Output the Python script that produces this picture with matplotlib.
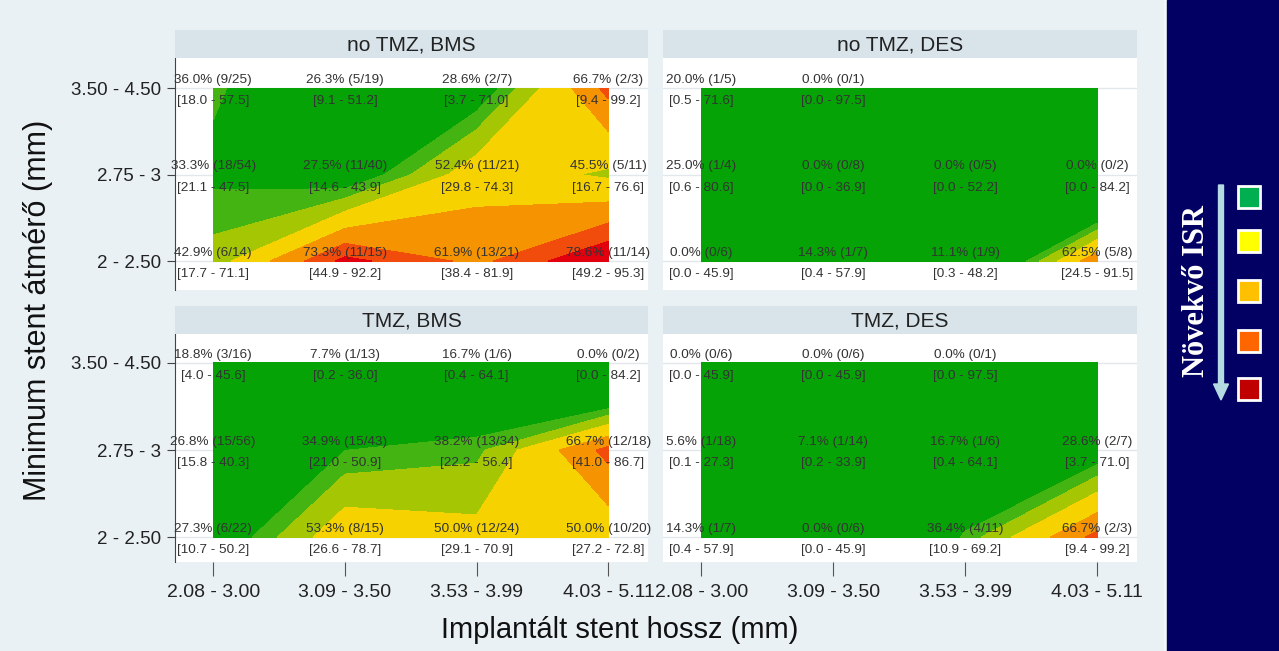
import numpy as np
import matplotlib.pyplot as plt
from matplotlib.patches import Rectangle, FancyArrow

plt.rcParams['font.family'] = ['Liberation Sans', 'DejaVu Sans']

# tengelyfeliratok
x_ticks = ["2.08 - 3.00", "3.09 - 3.50", "3.53 - 3.99", "4.03 - 5.11"]
y_ticks = ["2 - 2.50", "2.75 - 3", "3.50 - 4.50"]
titles = ["no TMZ, BMS", "no TMZ, DES", "TMZ, BMS", "TMZ, DES"]

nan = np.nan
# sorok: 3.50-4.50, 2.75-3, 2-2.50 (fentről lefelé)
no_tmz_bms_pct = [[36.0, 26.3, 28.6, 66.7], [33.3, 27.5, 52.4, 45.5], [42.9, 73.3, 61.9, 78.6]]
no_tmz_bms_k = [[9, 5, 2, 2], [18, 11, 11, 5], [6, 11, 13, 11]]
no_tmz_bms_n = [[25, 19, 7, 3], [54, 40, 21, 11], [14, 15, 21, 14]]
no_tmz_bms_lo = [[18.0, 9.1, 3.7, 9.4], [21.1, 14.6, 29.8, 16.7], [17.7, 44.9, 38.4, 49.2]]
no_tmz_bms_hi = [[57.5, 51.2, 71.0, 99.2], [47.5, 43.9, 74.3, 76.6], [71.1, 92.2, 81.9, 95.3]]

no_tmz_des_pct = [[20.0, 0.0, nan, nan], [25.0, 0.0, 0.0, 0.0], [0.0, 14.3, 11.1, 62.5]]
no_tmz_des_k = [[1, 0, nan, nan], [1, 0, 0, 0], [0, 1, 1, 5]]
no_tmz_des_n = [[5, 1, nan, nan], [4, 8, 5, 2], [6, 7, 9, 8]]
no_tmz_des_lo = [[0.5, 0.0, nan, nan], [0.6, 0.0, 0.0, 0.0], [0.0, 0.4, 0.3, 24.5]]
no_tmz_des_hi = [[71.6, 97.5, nan, nan], [80.6, 36.9, 52.2, 84.2], [45.9, 57.9, 48.2, 91.5]]

tmz_bms_pct = [[18.8, 7.7, 16.7, 0.0], [26.8, 34.9, 38.2, 66.7], [27.3, 53.3, 50.0, 50.0]]
tmz_bms_k = [[3, 1, 1, 0], [15, 15, 13, 12], [6, 8, 12, 10]]
tmz_bms_n = [[16, 13, 6, 2], [56, 43, 34, 18], [22, 15, 24, 20]]
tmz_bms_lo = [[4.0, 0.2, 0.4, 0.0], [15.8, 21.0, 22.2, 41.0], [10.7, 26.6, 29.1, 27.2]]
tmz_bms_hi = [[45.6, 36.0, 64.1, 84.2], [40.3, 50.9, 56.4, 86.7], [50.2, 78.7, 70.9, 72.8]]

tmz_des_pct = [[0.0, 0.0, 0.0, nan], [5.6, 7.1, 16.7, 28.6], [14.3, 0.0, 36.4, 66.7]]
tmz_des_k = [[0, 0, 0, nan], [1, 1, 1, 2], [1, 0, 4, 2]]
tmz_des_n = [[6, 6, 1, nan], [18, 14, 6, 7], [7, 6, 11, 3]]
tmz_des_lo = [[0.0, 0.0, 0.0, nan], [0.1, 0.2, 0.4, 3.7], [0.4, 0.0, 10.9, 9.4]]
tmz_des_hi = [[45.9, 45.9, 97.5, nan], [27.3, 33.9, 64.1, 71.0], [57.9, 45.9, 69.2, 99.2]]

panels = [
    (no_tmz_bms_pct, no_tmz_bms_k, no_tmz_bms_n, no_tmz_bms_lo, no_tmz_bms_hi),
    (no_tmz_des_pct, no_tmz_des_k, no_tmz_des_n, no_tmz_des_lo, no_tmz_des_hi),
    (tmz_bms_pct, tmz_bms_k, tmz_bms_n, tmz_bms_lo, tmz_bms_hi),
    (tmz_des_pct, tmz_des_k, tmz_des_n, tmz_des_lo, tmz_des_hi),
]

# kontúr szintek és színek
levels = [-1, 35, 40, 47, 56, 64, 71, 101]
colors = ['#05a305', '#44b412', '#a5c703', '#f6d200', '#f59300', '#f14c0c', '#e2000e']
legend_colors = ['#00b050', '#ffff00', '#ffc000', '#ff6600', '#c00000']

W, H = 1279, 651
fig = plt.figure(figsize=(W / 100, H / 100), dpi=100)
fig.patch.set_facecolor('#e9f1f4')

# panel helyek pixelben (bal, felső, jobb, alsó)
boxes = [(175, 58, 648, 290), (663, 58, 1137, 290),
         (175, 334, 648, 562), (663, 334, 1137, 562)]
strip_h = 28
ylims = [(-0.335, 2.347), (-0.335, 2.347), (-0.287, 2.333), (-0.287, 2.333)]

xg = np.arange(4)
yg = np.arange(3)

for idx, (pct, k, n, lo, hi) in enumerate(panels):
    l, t, r, b = boxes[idx]
    ax = fig.add_axes([l / W, 1 - b / H, (r - l) / W, (b - t) / H])
    ax.set_facecolor('white')
    z = np.flipud(np.array(pct, dtype=float))
    z = np.where(np.isnan(z), 0.0, z)  # hiányzó cella: zöld háttér
    ax.contourf(xg, yg, z, levels=levels, colors=colors, zorder=2)
    for yv in yg:
        ax.axhline(yv, color='#e1e7eb', lw=1, zorder=1)
    rows = len(pct)
    for i in range(rows):
        yv = rows - 1 - i
        for j in range(4):
            if np.isnan(pct[i][j]):
                continue
            ax.annotate(f"{pct[i][j]:.1f}% ({int(k[i][j])}/{int(n[i][j])})", (j, yv),
                        xytext=(0, 6), textcoords='offset points', ha='center', va='center',
                        fontsize=9.7, color='#333333', zorder=5, annotation_clip=False)
            ax.annotate(f"[{lo[i][j]:.1f} - {hi[i][j]:.1f}]", (j, yv),
                        xytext=(0, -9.5), textcoords='offset points', ha='center', va='center',
                        fontsize=9.7, color='#333333', zorder=5, annotation_clip=False)
    ax.set_xlim(-0.29, 3.3)
    ax.set_ylim(*ylims[idx])
    for s in ['top', 'right', 'bottom']:
        ax.spines[s].set_visible(False)
    if idx % 2 == 0:
        ax.spines['left'].set_color('#444444')
        ax.set_yticks(yg)
        ax.set_yticklabels(y_ticks, fontsize=13.5, color='#222222')
        ax.tick_params(axis='y', length=6, color='#444444', pad=4)
    else:
        ax.spines['left'].set_visible(False)
        ax.set_yticks([])
    if idx >= 2:
        ax.set_xticks(xg)
        ax.set_xticklabels(x_ticks, fontsize=14, color='#222222')
        ax.tick_params(axis='x', length=10, color='#555555', pad=6)
    else:
        ax.set_xticks([])

    # címsáv
    sax = fig.add_axes([l / W, 1 - t / H, (r - l) / W, strip_h / H])
    sax.set_facecolor('#d8e3ea')
    sax.set_xticks([])
    sax.set_yticks([])
    for s in sax.spines.values():
        s.set_visible(False)
    sax.text(0.5, 0.45, titles[idx], ha='center', va='center', fontsize=15,
             color='#222222', transform=sax.transAxes)

fig.text(38 / W, 1 - 310 / H, "Minimum stent átmérő (mm)", rotation=90,
         ha='center', va='center', fontsize=22, color='#111111')
fig.text(620 / W, 1 - 630 / H, "Implantált stent hossz (mm)", ha='center', va='center',
         fontsize=21, color='#111111')

# jobb oldali jelmagyarázat panel
lax = fig.add_axes([1164 / W, 0, (W - 1164) / W, 1])
lax.set_xlim(1164, W)
lax.set_ylim(H, 0)
lax.axis('off')
lax.add_patch(Rectangle((1164, 0), 3, H, color='#f4f7f9'))
lax.add_patch(Rectangle((1167, 0), W - 1167, H, color='#020062'))
lax.text(1197, 291, "Növekvő ISR", rotation=90, ha='center', va='center',
         fontsize=22, fontweight='bold', color='white', family='Liberation Serif')
lax.add_patch(FancyArrow(1221, 185, 0, 215, width=5, head_width=15, head_length=16,
                         length_includes_head=True, color='#b4dbe2'))
for c, yc in zip(legend_colors, [197, 241, 291, 341, 389]):
    lax.add_patch(Rectangle((1238, yc - 11), 22, 22, facecolor=c, edgecolor='white', lw=2))

plt.savefig('out.png', dpi=100, facecolor=fig.get_facecolor())
